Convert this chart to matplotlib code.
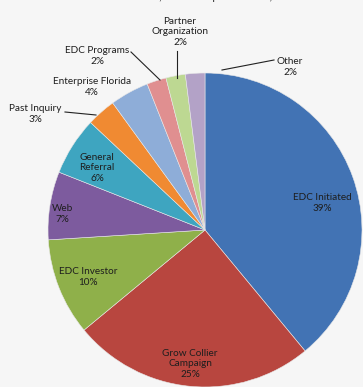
import matplotlib
matplotlib.use('agg')
import matplotlib.pyplot as plt

# referral sources, clockwise from 12 o'clock
sources = ['EDC Initiated', 'Grow Collier\nCampaign', 'EDC Investor', 'Web',
           'General\nReferral', 'Past Inquiry', 'Enterprise Florida',
           'EDC Programs', 'Partner\nOrganization', 'Other']
shares = [39, 25, 10, 7, 6, 3, 4, 2, 2, 2]
title = 'October 1, 2009 - September 30, 2010'

colors = ['#4273b4', '#b8463f', '#8fb04a', '#7d5b9e', '#3ea5c0',
          '#f08a32', '#8eadd8', '#e08f90', '#bdd892', '#b3a2c7']

W, H = 363, 387
plt.rcParams['font.family'] = ['Lato', 'DejaVu Sans']

fig = plt.figure(figsize=(W / 100, H / 100), dpi=100, facecolor='#f6f6f6')
ax = fig.add_axes([0, 0, 1, 1])
ax.set_xlim(0, W)
ax.set_ylim(0, H)
ax.set_aspect('equal')
ax.axis('off')

cx, cy, r = 205, H - 230, 157
ax.pie(shares, colors=colors, startangle=90, counterclock=False,
       center=(cx, cy), radius=r, frame=True,
       wedgeprops=dict(linewidth=0.4, edgecolor='#e8e8e8'))
ax.set_xlim(0, W)
ax.set_ylim(0, H)
ax.axis('off')

# label anchor points (pixels from top-left)
label_xy = [(322, 203), (190, 364), (88, 277), (62, 214), (97, 168),
            (35, 114), (92, 87), (97, 56), (180, 32), (290, 67)]
for name, val, (lx, ly) in zip(sources, shares, label_xy):
    ax.text(lx, H - ly, f'{name}\n{val}%', ha='center', va='center',
            fontsize=7.2, color='#1e1e1e', linespacing=1.25)

# leader lines for the small slices
leaders = [((65, 112), (96, 115)), ((131, 52), (160, 80)),
           ((177, 51), (177, 78)), ((274, 60), (222, 70))]
for (x0, y0), (x1, y1) in leaders:
    ax.plot([x0, x1], [H - y0, H - y1], color='#222222', lw=0.8)

ax.text(205, H + 3, title, ha='center', va='center', fontsize=8,
        color='#333333', clip_on=False)

fig.savefig('out.png', dpi=100, facecolor=fig.get_facecolor())
